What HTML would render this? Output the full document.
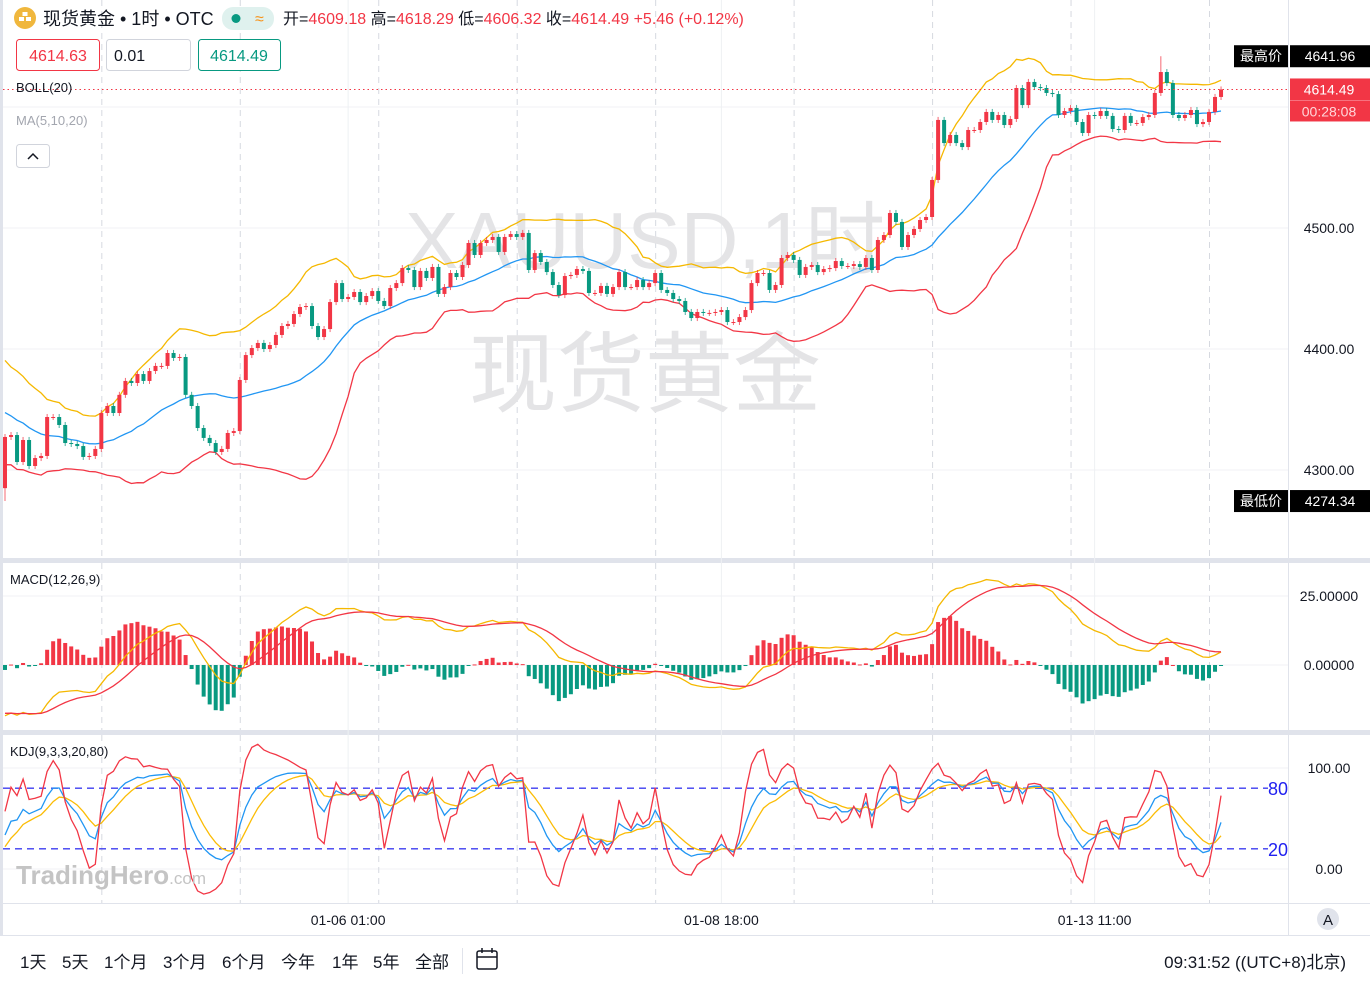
<!DOCTYPE html>
<html><head><meta charset="utf-8">
<style>
html,body{margin:0;padding:0;background:#fff;}
svg{display:block;font-family:"Liberation Sans","Noto Sans CJK SC",sans-serif;}
</style></head>
<body>
<svg id="chart" width="1370" height="986" viewBox="0 0 1370 986" xmlns="http://www.w3.org/2000/svg">
  <rect x="0" y="0" width="1370" height="986" fill="#ffffff"/>
  <!-- pane borders -->
  <rect x="0" y="0" width="3" height="935" fill="#e0e3eb"/>
  <rect x="0" y="558" width="1370" height="5" fill="#e0e3eb"/>
  <rect x="0" y="730" width="1370" height="5" fill="#e0e3eb"/>
  <line x1="0" y1="903.5" x2="1370" y2="903.5" stroke="#e0e3eb"/>
  <line x1="0" y1="935.5" x2="1370" y2="935.5" stroke="#e0e3eb"/>
  <line x1="1288.5" y1="0" x2="1288.5" y2="935" stroke="#e0e3eb"/>
  <g id="grid"></g>
  <g id="watermark">
    <text x="645" y="268" font-size="80" fill="#e4e4e6" text-anchor="middle">XAUUSD,1时</text>
    <text x="645" y="405" font-size="88" fill="#e4e4e6" text-anchor="middle">现货黄金</text>
  </g>
  <g id="main"></g>
  <g id="macd"></g>
  <g id="kdj"></g>
  <g id="axes"></g>

  <!-- header -->
  <g>
    <circle cx="25" cy="18" r="11" fill="#f0b73d"/>
    <rect x="19" y="17" width="5" height="4" fill="#fff"/><rect x="26" y="17" width="5" height="4" fill="#fff"/><rect x="22.5" y="12" width="5" height="4" fill="#fff"/>
    <text x="43" y="25" font-size="18" fill="#131722">现货黄金 • 1时 • OTC</text>
    <rect x="222" y="7" width="52" height="23" rx="11" fill="#dff1ee"/>
    <circle cx="236" cy="18.5" r="4.5" fill="#089981"/>
    <text x="255" y="24" font-size="16" fill="#f7931a">≈</text>
    <text x="283" y="24" font-size="16" fill="#131722">开=<tspan fill="#f23645">4609.18</tspan> 高=<tspan fill="#f23645">4618.29</tspan> 低=<tspan fill="#f23645">4606.32</tspan> 收=<tspan fill="#f23645">4614.49</tspan> <tspan fill="#f23645">+5.46 (+0.12%)</tspan></text>
  </g>
  <g>
    <rect x="16.5" y="39.5" width="83" height="31" rx="3" fill="#fff" stroke="#f23645"/>
    <text x="58" y="61" font-size="16" fill="#f23645" text-anchor="middle">4614.63</text>
    <rect x="106.5" y="39.5" width="84" height="31" rx="3" fill="#fff" stroke="#d1d4dc"/>
    <text x="114" y="61" font-size="16" fill="#131722">0.01</text>
    <rect x="198.5" y="39.5" width="82" height="31" rx="3" fill="#fff" stroke="#089981"/>
    <text x="239" y="61" font-size="16" fill="#089981" text-anchor="middle">4614.49</text>
  </g>
  <text x="16" y="92" font-size="13" fill="#131722">BOLL(20)</text>
  <text x="16" y="125" font-size="13" fill="#a3a6af">MA(5,10,20)</text>
  <rect x="16.5" y="144.5" width="33" height="23" rx="3" fill="#fff" stroke="#d1d4dc"/>
  <path d="M28 159 L33 154 L38 159" fill="none" stroke="#131722" stroke-width="1.5"/>
  <text x="10" y="584" font-size="13" fill="#131722">MACD(12,26,9)</text>
  <text x="10" y="756" font-size="13" fill="#131722">KDJ(9,3,3,20,80)</text>
  <text x="16" y="884" font-size="26" font-weight="bold" fill="#c4c4c4">TradingHero<tspan font-size="17" font-weight="normal">.com</tspan></text>

  <!-- bottom toolbar -->
  <g font-size="17" fill="#131722">
    <text x="20" y="968">1天</text>
    <text x="62" y="968">5天</text>
    <text x="104" y="968">1个月</text>
    <text x="163" y="968">3个月</text>
    <text x="222" y="968">6个月</text>
    <text x="281" y="968">今年</text>
    <text x="332" y="968">1年</text>
    <text x="373" y="968">5年</text>
    <text x="415" y="968">全部</text>
    <line x1="462.5" y1="948" x2="462.5" y2="974" stroke="#e0e3eb"/>
    <g fill="none" stroke="#131722" stroke-width="1.5">
      <rect x="477" y="951" width="20" height="18" rx="2"/><line x1="477" y1="957" x2="497" y2="957"/><line x1="482" y1="948" x2="482" y2="953"/><line x1="492" y1="948" x2="492" y2="953"/>
    </g>
    <text x="1346" y="968" text-anchor="end">09:31:52 ((UTC+8)北京)</text>
  </g>
  <circle cx="1328" cy="919" r="11" fill="#e0e3eb"/>
  <text x="1328" y="925" font-size="15" fill="#131722" text-anchor="middle">A</text>
</svg>
<script>
// ---- data (hourly closes, XAUUSD) ----
const history = [4425,4432,4418,4428,4415,4420,4405,4412,4400,4408,4395,4402,4388,4396,4392,4380,4386,4372,4378,4368,4390,4384,4378,4372,4380,4366,4360,4368,4352,4345,4355,4340,4335,4345,4330,4322,4335,4318,4325,4312];
const closes = [4327.3,4328.9,4306.6,4324.8,4303.3,4309.9,4311.6,4343.8,4343.8,4337.2,4322.3,4321.5,4319.8,4310.8,4311.6,4317.4,4347.1,4352.9,4347.1,4362.1,
4373.6,4371.9,4379.3,4373.6,4381.8,4386.0,4386.0,4396.7,4392.6,4393.4,4362.1,4352.9,4334.7,4326.5,4322.3,4314.9,4317.4,4330.6,4332.2,4374.4,
4395.0,4400.8,4405.0,4400.0,4403.3,4411.6,4419.0,4420.7,4428.9,4434.7,4435.5,4419.0,4409.9,4416.5,4438.8,4454.5,4441.3,4443.0,4447.1,4438.8,
4443.8,4447.9,4439.7,4435.5,4450.4,4454.5,4466.9,4465.3,4451.2,4464.5,4458.7,4467.8,4445.5,4451.2,4462.8,4459.5,4469.4,4487.6,4477.7,4487.6,
4490.1,4492.6,4480.2,4492.6,4495.0,4492.6,4495.9,4465.3,4479.3,4471.9,4463.6,4452.9,4444.6,4460.3,4461.2,4466.1,4464.5,4446.3,4446.3,4452.1,
4445.5,4451.2,4463.6,4451.2,4451.2,4457.0,4451.2,4454.5,4462.8,4448.8,4446.3,4441.3,4439.7,4430.6,4425.6,4430.6,4429.8,4429.8,4430.6,4432.2,
4422.3,4422.3,4426.4,4432.2,4454.5,4462.8,4462.8,4448.8,4452.9,4475.2,4477.7,4473.6,4461.2,4467.8,4469.4,4463.6,4466.1,4466.9,4472.7,4468.6,
4468.6,4470.2,4467.8,4475.2,4465.3,4490.1,4494.2,4512.4,4505.0,4484.3,4494.2,4499.2,4506.6,4509.1,4539.7,4589.3,4570.2,4576.9,4570.2,4566.9,
4581.0,4581.0,4587.6,4595.9,4589.3,4593.4,4585.1,4590.1,4615.7,4601.6,4620.7,4616.5,4615.7,4611.6,4610.7,4593.4,4596.7,4599.2,4587.6,4578.5,
4593.4,4592.6,4596.7,4592.6,4581.8,4581.0,4592.6,4586.8,4586.8,4591.7,4593.4,4611.6,4628.9,4619.8,4593.4,4590.9,4593.4,4597.5,4585.9,4587.6,
4595.9,4608.3,4614.49];
const firstOpen = 4285.0;
const wick = 2.5;
const extremeHighIndex = 192, extremeHigh = 4641.96;
const extremeLowIndex = 0, extremeLow = 4274.34;
const priceTicks = [4300, 4400, 4500];
const macdTicks = [0, 25];
const kdjTicks = [0, 100];
const kdjLevels = [20, 80];
const timeLabels = ["01-06 01:00", "01-08 18:00", "01-13 11:00"];
const timeLabelIndex = [57, 119, 181];
const daySepIndex = [16, 39, 62, 85, 108, 131, 154, 177, 200];

// ---- scales ----
const NS = "http://www.w3.org/2000/svg";
const xOf = i => 5 + i * 6.02;
const yP = p => 228 - (p - 4500) * 1.21;
const yM = v => 665 - v * 2.76;
const yK = v => 869 - v * 1.01;
function mk(tag, attrs, parent) {
  const e = document.createElementNS(NS, tag);
  for (const k in attrs) e.setAttribute(k, attrs[k]);
  parent.appendChild(e);
  return e;
}
const RED = "#f23645", GREEN = "#089981";

// ---- OHLC ----
const opens = closes.map((c, i) => i === 0 ? firstOpen : closes[i - 1]);
const highs = closes.map((c, i) => i === extremeHighIndex ? extremeHigh : Math.max(c, opens[i]) + wick);
const lows = closes.map((c, i) => i === extremeLowIndex ? extremeLow : Math.min(c, opens[i]) - wick);
const all = history.concat(closes);
const allH = history.map(v => v + wick).concat(highs);
const allL = history.map(v => v - wick).concat(lows);
const H = history.length;

// ---- indicators ----
function ema(arr, n) { const k = 2 / (n + 1); const out = []; arr.forEach((v, i) => out.push(i ? out[i - 1] + k * (v - out[i - 1]) : v)); return out; }
const up = [], mid = [], lo = [];
closes.forEach((c, i) => {
  const w = all.slice(H + i - 19, H + i + 1);
  const m = w.reduce((a, b) => a + b, 0) / 20;
  const sd = Math.sqrt(w.reduce((a, b) => a + (b - m) * (b - m), 0) / 20);
  up.push(m + 2 * sd); mid.push(m); lo.push(m - 2 * sd);
});
const e12 = ema(all, 12), e26 = ema(all, 26);
const difAll = e12.map((v, i) => v - e26[i]);
const deaAll = ema(difAll, 9);
const dif = difAll.slice(H), dea = deaAll.slice(H);
const hist = dif.map((v, i) => 2 * (v - dea[i]));
let K = 50, D = 50; const kA = [], dA = [], jA = [];
all.forEach((c, i) => {
  const s = Math.max(0, i - 8);
  const hh = Math.max(...allH.slice(s, i + 1)), ll = Math.min(...allL.slice(s, i + 1));
  const rsv = hh === ll ? 50 : (c - ll) / (hh - ll) * 100;
  K = 2 / 3 * K + rsv / 3; D = 2 / 3 * D + K / 3;
  if (i >= H) { kA.push(K); dA.push(D); jA.push(3 * K - 2 * D); }
});

// ---- grid ----
const grid = document.getElementById("grid");
const defs = mk("defs", {}, document.getElementById("chart"));
const cp = mk("clipPath", { id: "cMain" }, defs); mk("rect", { x: 3, y: 0, width: 1285, height: 558 }, cp);
const cm = mk("clipPath", { id: "cMacd" }, defs); mk("rect", { x: 3, y: 563, width: 1285, height: 167 }, cm);
const ck = mk("clipPath", { id: "cKdj" }, defs); mk("rect", { x: 3, y: 735, width: 1285, height: 168 }, ck);
[4300, 4400, 4500, 4600].forEach(p => { mk("line", { x1: 3, x2: 1288, y1: yP(p), y2: yP(p), stroke: "#f0f1f4" }, grid); });
[0, 25].forEach(v => mk("line", { x1: 3, x2: 1288, y1: yM(v), y2: yM(v), stroke: "#f0f1f4" }, grid));
[0, 100].forEach(v => mk("line", { x1: 3, x2: 1288, y1: yK(v), y2: yK(v), stroke: "#f0f1f4" }, grid));
timeLabelIndex.forEach(i => mk("line", { x1: xOf(i), x2: xOf(i), y1: 0, y2: 903, stroke: "#eef0f3" }, grid));
daySepIndex.forEach(i => {
  [[0, 558], [563, 730], [735, 903]].forEach(([a, b]) => mk("line", { x1: xOf(i) + 0.5, x2: xOf(i) + 0.5, y1: a, y2: b, stroke: "#d6d9e0", "stroke-dasharray": "6 5" }, grid));
});

// ---- main pane ----
const main = document.getElementById("main");
main.setAttribute("clip-path", "url(#cMain)");
function line(vals, yf, color, parent, name) {
  const d = vals.map((v, i) => (i ? "L" : "M") + xOf(i).toFixed(1) + " " + yf(v).toFixed(1)).join("");
  const p = mk("path", { d: d, fill: "none", stroke: color, "stroke-width": 1.3 }, parent);
  
  
  return p;
}
line(up, yP, "#f5b800", main, "boll-upper-band");
line(mid, yP, "#2196f3", main, "boll-middle-band");
line(lo, yP, "#f23645", main, "boll-lower-band");
closes.forEach((c, i) => {
  const o = opens[i], col = c >= o ? RED : GREEN, x = xOf(i);
  const g = mk("g", {}, main);
  
  
  mk("line", { x1: x, x2: x, y1: yP(highs[i]), y2: yP(lows[i]), stroke: col, "stroke-width": 1, opacity: 0.75 }, g);
  const t = Math.min(yP(o), yP(c)), h = Math.max(1, Math.abs(yP(o) - yP(c)));
  mk("rect", { x: x - 2, y: t, width: 4, height: h, fill: col }, g);
});
const lastY = yP(closes[closes.length - 1]);
const pl = mk("line", { x1: 3, x2: 1288, y1: lastY, y2: lastY, stroke: RED, "stroke-dasharray": "1.5 3" }, document.getElementById("axes"));



// ---- MACD ----
const macd = document.getElementById("macd");
macd.setAttribute("clip-path", "url(#cMacd)");
hist.forEach((v, i) => {
  const r = mk("rect", { x: xOf(i) - 2, y: Math.min(yM(v), yM(0)), width: 4, height: Math.max(1, Math.abs(yM(v) - yM(0))), fill: v >= 0 ? RED : GREEN }, macd);
  
  
});
line(dif, yM, "#f5b800", macd, "macd-dif-line");
line(dea, yM, "#f23645", macd, "macd-dea-line");

// ---- KDJ ----
const kdj = document.getElementById("kdj");
kdj.setAttribute("clip-path", "url(#cKdj)");
kdjLevels.forEach(v => {
  const l = mk("line", { x1: 3, x2: 1268, y1: yK(v), y2: yK(v), stroke: "#3c3cf0", "stroke-width": 1.3, "stroke-dasharray": "7 5" }, kdj);
  
  
  const t = mk("text", { x: 1288, y: yK(v) + 7, "font-size": 18, fill: "#2020f0", "text-anchor": "end" }, document.getElementById("axes"));
  t.textContent = v;
  
  
});
line(dA, yK, "#fbbc05", kdj, "kdj-d-line");
line(kA, yK, "#2196f3", kdj, "kdj-k-line");
line(jA, yK, "#f23645", kdj, "kdj-j-line");

// ---- axes ----
const axes = document.getElementById("axes");
function lab(txt, x, y, name, extra) {
  const t = mk("text", Object.assign({ x: x, y: y, "font-size": 14, fill: "#131722", "text-anchor": "middle" }, extra || {}), axes);
  t.textContent = txt;
  
  
  return t;
}
priceTicks.forEach(p => lab(p.toFixed(2), 1329, yP(p) + 5, "price-tick"));
macdTicks.forEach(v => lab(v.toFixed(5), 1329, yM(v) + 5, "macd-tick"));
kdjTicks.forEach(v => lab(v.toFixed(2), 1329, yK(v) + 5, "kdj-tick"));
timeLabels.forEach((s, k) => lab(s, xOf(timeLabelIndex[k]), 925, "time-tick"));
function tag(x, y, w, h, fill, txt, name) {
  const r = mk("rect", { x: x, y: y, width: w, height: h, fill: fill }, axes);
  
  
  lab(txt, x + w / 2, y + h / 2 + 5, name + "-text", { fill: "#fff" });
}
tag(1234, yP(extremeHigh) - 11, 54, 22, "#000", "最高价", "high-tag");
tag(1290, yP(extremeHigh) - 11, 80, 22, "#000", extremeHigh.toFixed(2), "high-price-tag");
tag(1234, yP(extremeLow) - 11, 54, 22, "#000", "最低价", "low-tag");
tag(1290, yP(extremeLow) - 11, 80, 22, "#000", extremeLow.toFixed(2), "low-price-tag");
const cr = mk("rect", { x: 1290, y: lastY - 11, width: 80, height: 43, fill: RED }, axes);


mk("line", { x1: 1290, x2: 1370, y1: lastY + 11, y2: lastY + 11, stroke: "#f7727f" }, axes);
lab(closes[closes.length - 1].toFixed(2), 1329, lastY + 5, "current-price-text", { fill: "#fff" });
lab("00:28:08", 1329, lastY + 27, "bar-countdown", { fill: "#ffd6da" });
</script>
</body></html>
